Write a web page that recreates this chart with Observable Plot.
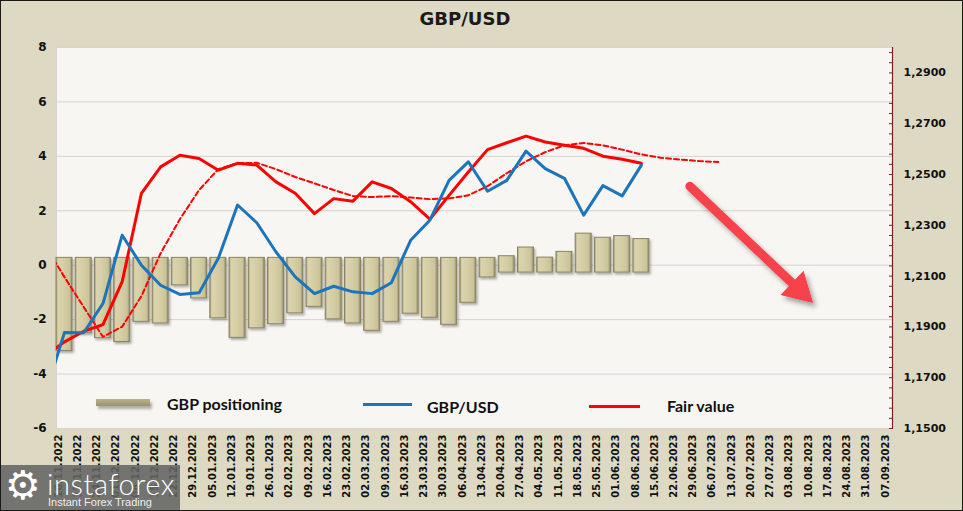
<!DOCTYPE html>
<html><head><meta charset="utf-8">
<script src="https://cdn.jsdelivr.net/npm/d3@7"></script>
<script src="https://cdn.jsdelivr.net/npm/@observablehq/plot@0.6"></script>
<style>
html,body{margin:0;padding:0;background:#DDD9C3;}
#wrap{position:relative;width:963px;height:511px;overflow:hidden;background:#DDD9C3;}
#chart{position:absolute;left:0;top:0;}
#border{position:absolute;left:0;top:0;width:961px;height:509px;border:1px solid #1a1a1a;pointer-events:none;}
#title{position:absolute;left:365px;width:200px;top:8px;text-align:center;font:bold 18px "DejaVu Sans";color:#1a1a1a;}
.lg{position:absolute;font:bold 16px Lato;color:#111;line-height:18px;white-space:nowrap;}
.sw{position:absolute;}
#wm{position:absolute;left:0;top:465px;width:180px;height:46px;background:rgba(100,100,100,0.88);color:#fff;}
#wm .gear{position:absolute;left:5px;top:-3px;font:40px "DejaVu Sans";line-height:46px;}
#wm .brand{position:absolute;left:47px;top:4px;font:300 29px Lato;letter-spacing:0.6px;line-height:30px;}
#wm .tag{position:absolute;left:48px;top:30px;font:11px "Liberation Sans";line-height:14px;color:#eee;}
</style></head>
<body>
<div id="wrap">
  <div id="chart"></div>
  <div id="title">GBP/USD</div>
  <div class="sw" style="left:96px;top:399px;width:54px;height:7px;background:linear-gradient(#B9B28A,#9A9370);box-shadow:2px 3px 3px rgba(0,0,0,0.3);"></div>
  <div class="lg" style="left:167px;top:395px;">GBP positioning</div>
  <div class="sw" style="left:363px;top:403px;width:49px;height:3px;background:#1B75BC;"></div>
  <div class="lg" style="left:427px;top:398px;">GBP/USD</div>
  <div class="sw" style="left:589px;top:405px;width:51px;height:3px;background:#FF0000;"></div>
  <div class="lg" style="left:667px;top:397px;">Fair value</div>
  <div id="wm"><span class="gear">⚙</span><span class="brand">instaforex</span><span class="tag">Instant Forex Trading</span></div>
  <div id="border"></div>
</div>
<script>
// Weekly categories (first week only feeds the line segments entering the chart)
const weeks = ["03.11.2022","10.11.2022","17.11.2022","24.11.2022","01.12.2022","08.12.2022","15.12.2022","22.12.2022","29.12.2022",
"05.01.2023","12.01.2023","19.01.2023","26.01.2023","02.02.2023","09.02.2023","16.02.2023","23.02.2023","02.03.2023","09.03.2023",
"16.03.2023","23.03.2023","30.03.2023","06.04.2023","13.04.2023","20.04.2023","27.04.2023","04.05.2023","11.05.2023","18.05.2023",
"25.05.2023","01.06.2023","08.06.2023","15.06.2023","22.06.2023","29.06.2023","06.07.2023","13.07.2023","20.07.2023","27.07.2023",
"03.08.2023","10.08.2023","17.08.2023","24.08.2023","31.08.2023","07.09.2023"];

// GBP positioning (left axis), from 10.11.2022 to 08.06.2023
const positioning = [-3.15,-2.50,-2.68,-2.82,-2.08,-2.14,-0.74,-1.22,-1.95,-2.67,-2.32,-2.17,-1.77,-1.53,-1.99,-2.14,
-2.41,-2.08,-1.78,-1.93,-2.19,-1.38,-0.45,0.33,0.65,0.28,0.49,1.16,1.01,1.07,0.96];

// GBP/USD (right axis), from 03.11.2022 to 08.06.2023
const gbpusd = [1.1635,1.1878,1.1877,1.1992,1.2261,1.2143,1.2064,1.2028,1.2034,1.2170,1.2380,1.2310,1.2195,1.2097,1.2031,1.2060,
1.2038,1.2031,1.2074,1.2241,1.2320,1.2477,1.2550,1.2434,1.2477,1.2592,1.2523,1.2485,1.2340,1.2456,1.2416,1.2537];

// Fair value (right axis), from 03.11.2022 to 08.06.2023
const fairValue = [1.1786,1.1841,1.1883,1.1909,1.2078,1.2426,1.2530,1.2576,1.2563,1.2517,1.2544,1.2537,1.2471,1.2426,1.2346,1.2405,
1.2395,1.2471,1.2445,1.2393,1.2324,1.2418,1.2510,1.2598,1.2625,1.2651,1.2628,1.2615,1.2603,1.2572,1.2560,1.2544];

// Fair value trend, dashed (right axis), from 03.11.2022 to 06.07.2023
const fairValueTrend = [1.2219,1.2096,1.1978,1.1861,1.1901,1.2021,1.2190,1.2324,1.2439,1.2521,1.2545,1.2546,1.2521,1.2490,1.2465,1.2439,
1.2415,1.2411,1.2415,1.2409,1.2403,1.2406,1.2418,1.2454,1.2505,1.2552,1.2588,1.2615,1.2624,1.2615,1.2598,1.2579,1.2566,1.2559,1.2553,1.2549];

const leftTicks = [-6,-4,-2,0,2,4,6,8];
const gridLines = [-4,-2,0,2,4,6];
const rightTicks = [1.15,1.17,1.19,1.21,1.23,1.25,1.27,1.29];
const rightRange = [1.15,1.30];

// Annotation arrow: [week index, left-axis value] start and tip
const trendArrow = [[32.52, 2.90],[38.88,-1.35]];

// ---------------------------------------------------------------
const W = 963, H = 511, mL = 56, mR = 71, mT = 47, mB = 83;
const xDomain = [-0.416, 43.06], yDomain = [-6, 8];
const toLeft = p => (p - rightRange[0]) / (rightRange[1] - rightRange[0]) * (yDomain[1] - yDomain[0]) + yDomain[0];
const toRight = v => (v - yDomain[0]) / (yDomain[1] - yDomain[0]) * (rightRange[1] - rightRange[0]) + rightRange[0];

const barData = positioning.map((v, i) => ({i, v}));
const series = (arr) => arr.map((p, k) => ({i: k - 1, y: toLeft(p), week: weeks[k]}));
const blueData = series(gbpusd), redData = series(fairValue), dashData = series(fairValueTrend);

const minorTicks = d3.range(0, 38).map(k => toLeft(rightRange[0] + k * 0.004)).filter(v => v <= 8.001);

// arrow geometry (pixel-proportional along the segment)
const pxX = (W - mL - mR) / (xDomain[1] - xDomain[0]);
const pxY = (H - mT - mB) / (yDomain[1] - yDomain[0]);
const [[ax0, ay0], [ax1, ay1]] = trendArrow;
const dxp = (ax1 - ax0) * pxX, dyp = -(ay1 - ay0) * pxY;
const len = Math.hypot(dxp, dyp);
const ang = Math.atan2(dyp, dxp) * 180 / Math.PI;
const lerp = (t) => ({x: ax1 + (ax0 - ax1) * t, y: ay1 + (ay0 - ay1) * t});
const linkEnd = lerp(20 / len), headC = lerp(18 / len);

const defs = () => {
  const d = d3.create("svg:defs");
  const g = d.append("linearGradient").attr("id", "barGrad").attr("x1", 0).attr("x2", 1).attr("y1", 0).attr("y2", 0);
  [["0%", "#9E9772"], ["12%", "#DAD3AC"], ["50%", "#D5CEA5"], ["85%", "#CBC399"], ["100%", "#8F8864"]]
    .forEach(([o, c]) => g.append("stop").attr("offset", o).attr("stop-color", c));
  const f = d.append("filter").attr("id", "shadow").attr("x", "-20%").attr("y", "-20%").attr("width", "150%").attr("height", "150%");
  f.append("feDropShadow").attr("dx", 3).attr("dy", 4).attr("stdDeviation", 2.5).attr("flood-color", "#000").attr("flood-opacity", 0.35);
  const f2 = d.append("filter").attr("id", "barShadow").attr("x", "-30%").attr("y", "-10%").attr("width", "160%").attr("height", "130%");
  f2.append("feDropShadow").attr("dx", 1.5).attr("dy", 2).attr("stdDeviation", 1.2).attr("flood-color", "#000").attr("flood-opacity", 0.3);
  return d.node();
};

const chart = Plot.plot({
  width: W, height: H,
  marginLeft: mL, marginRight: mR, marginTop: mT, marginBottom: mB,
  style: {background: "transparent", fontFamily: "DejaVu Sans", color: "#111", overflow: "visible"},
  x: {type: "linear", domain: xDomain},
  y: {domain: yDomain},
  marks: [
    defs,
    Plot.frame({fill: "#F7F6F2", stroke: "#D8D6CE"}),
    Plot.gridY(gridLines, {stroke: "#D3D3D3", strokeOpacity: 1}),
    Plot.axisY({ticks: leftTicks, anchor: "left", tickSize: 0, tickPadding: 10, tickFormat: d => String(d), fontWeight: "bold", fontSize: 12, label: null}),
    Plot.axisY({ticks: rightTicks.map(toLeft), anchor: "right", tickSize: 0, tickPadding: 11,
      tickFormat: v => toRight(v).toFixed(4).replace(".", ","), fontWeight: "bold", fontSize: 11, label: null}),
    Plot.axisY({ticks: minorTicks, anchor: "right", tickSize: -4, tickFormat: () => "", stroke: "#7A1F24", label: null}),
    Plot.ruleX([xDomain[1]], {stroke: "#7A1F24", strokeWidth: 1.2}),
    Plot.axisX({ticks: d3.range(0, 44), tickFormat: i => weeks[i + 1], tickRotate: -90, tickSize: 0, tickPadding: 6,
      dx: -6, fontSize: 10, fontWeight: "bold", label: null}),
    Plot.rect(barData, {x1: d => d.i - 0.415, x2: d => d.i + 0.415, y1: d => d.v < 0 ? 0.27 : -0.27, y2: "v",
      fill: "url(#barGrad)", stroke: "#8A8462", strokeWidth: 1}),
    Plot.line(dashData, {x: "i", y: "y", stroke: "#FF0000", strokeWidth: 2, strokeDasharray: "5,3", clip: true}),
    Plot.line(redData, {x: "i", y: "y", stroke: "#FF0000", strokeWidth: 3, clip: true}),
    Plot.line(blueData, {x: "i", y: "y", stroke: "#1B75BC", strokeWidth: 3, clip: true}),
    Plot.link([{x1: ax0, y1: ay0, x2: linkEnd.x, y2: linkEnd.y}], {x1: "x1", y1: "y1", x2: "x2", y2: "y2",
      stroke: "#F5424C", strokeWidth: 9, strokeLinecap: "round"}),
    Plot.dot([headC], {x: "x", y: "y", symbol: "triangle", r: 11.8, rotate: 90 + ang, fill: "#F5424C", stroke: "#F5424C", strokeWidth: 1})
  ]
});

const svg = d3.select(chart);
svg.selectAll('g[aria-label="link"], g[aria-label="dot"]').attr("filter", "url(#shadow)");
svg.selectAll('g[aria-label="rect"]').attr("filter", "url(#barShadow)");
document.getElementById("chart").appendChild(chart);
</script>
</body></html>
